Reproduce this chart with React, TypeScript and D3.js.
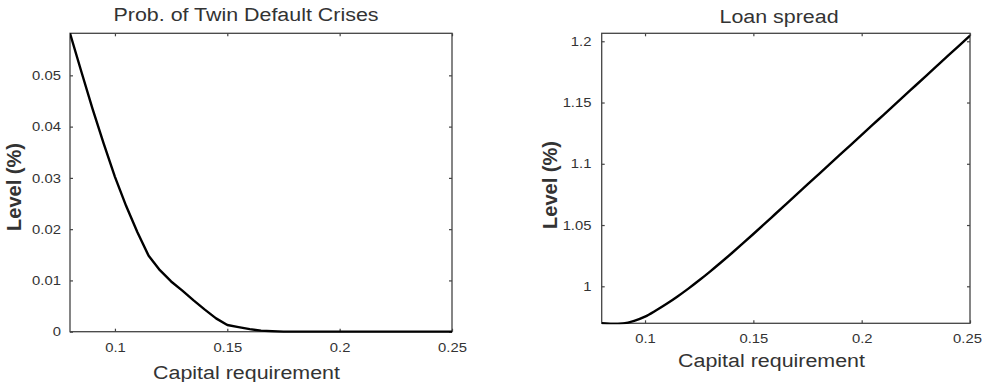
import { useEffect, useRef } from "react";
import * as d3 from "d3";

const W = 982;
const H = 382;
// the source picture is a little stretched horizontally
const SX = 1.14;
const FONT = "'Liberation Sans', Arial, sans-serif";

const capital = [
  0.08, 0.085, 0.09, 0.095, 0.1, 0.105, 0.11, 0.115, 0.12, 0.125, 0.13, 0.135,
  0.14, 0.145, 0.15, 0.155, 0.16, 0.165, 0.17, 0.175, 0.18, 0.185, 0.19, 0.195,
  0.2, 0.205, 0.21, 0.215, 0.22, 0.225, 0.23, 0.235, 0.24, 0.245, 0.25,
];

const twinCrisisProb = [
  0.0582, 0.0508, 0.0435, 0.0367, 0.0302, 0.0245, 0.0194, 0.0148, 0.012,
  0.0098, 0.008, 0.0061, 0.0043, 0.0026, 0.0013, 0.0009, 0.0005, 0.0002,
  0.0001, 0, 0, 0, 0, 0, 0, 0, 0, 0, 0, 0, 0, 0, 0, 0, 0,
];

const loanSpread = [
  0.9698, 0.9692, 0.9697, 0.9718, 0.9752, 0.9802, 0.9857, 0.9917, 0.9981,
  1.0049, 1.012, 1.0194, 1.027, 1.0348, 1.0427, 1.0507, 1.0588, 1.0669, 1.075,
  1.0831, 1.0912, 1.0993, 1.1074, 1.1155, 1.1236, 1.1317, 1.1398, 1.1479,
  1.156, 1.1641, 1.1722, 1.1803, 1.1884, 1.1965, 1.2046,
];

const xTicks = [0.1, 0.15, 0.2, 0.25];
const probTicks = [0, 0.01, 0.02, 0.03, 0.04, 0.05];
const spreadTicks = [1, 1.05, 1.1, 1.15, 1.2];

const panels = [
  {
    id: "twin",
    title: "Prob. of Twin Default Crises",
    values: twinCrisisProb,
    yDomain: [0, 0.0582],
    yTicks: probTicks,
    box: { l: 70, r: 452, t: 33.3, b: 331.7 },
    titleAt: [246, 21],
    xLabelAt: [246.5, 379],
    yLabelAt: [14, 187],
    yPad: 8,
    lastTickShift: 0,
    curve: d3.curveLinear,
  },
  {
    id: "spread",
    title: "Loan spread",
    values: loanSpread,
    yDomain: [0.9698, 1.2065],
    yTicks: spreadTicks,
    box: { l: 601.7, r: 970, t: 33.3, b: 323.3 },
    titleAt: [779, 23],
    xLabelAt: [771.5, 366.7],
    yLabelAt: [550, 185],
    yPad: 9,
    lastTickShift: -3,
    curve: d3.curveMonotoneX,
  },
];

type Panel = (typeof panels)[number];

function drawPanel(svg: d3.Selection<SVGSVGElement, unknown, null, undefined>, p: Panel) {
  const { l, r, t, b } = p.box;
  const x = d3.scaleLinear().domain([0.08, 0.25]).range([l, r]);
  const y = d3.scaleLinear().domain(p.yDomain).range([b, t]);
  const fmt = d3.format("~g");
  const g = svg.append("g");

  const tidy = (sel: d3.Selection<SVGGElement, unknown, null, undefined>) => {
    sel.select(".domain").remove();
    sel.selectAll("line").attr("stroke", "#444").attr("stroke-width", 1.2);
    sel
      .selectAll("text")
      .attr("fill", "#333")
      .style("font-family", FONT)
      .style("font-size", "13px")
      .attr("transform", `scale(${SX},1)`);
  };

  const bottom = g
    .append("g")
    .attr("transform", `translate(0,${b})`)
    .call(d3.axisBottom(x).tickValues(xTicks).tickSize(-3).tickPadding(10.8).tickFormat(fmt))
    .call(tidy);
  // keep the last label inside the page
  bottom
    .selectAll<SVGTextElement, number>("text")
    .filter((d) => d === 0.25)
    .attr("transform", `translate(${p.lastTickShift},0) scale(${SX},1)`);

  g.append("g")
    .attr("transform", `translate(0,${t})`)
    .call(d3.axisTop(x).tickValues(xTicks).tickSize(-3).tickFormat(() => ""))
    .call(tidy);
  g.append("g")
    .attr("transform", `translate(${l},0)`)
    .call(d3.axisLeft(y).tickValues(p.yTicks).tickSize(-3).tickPadding(p.yPad).tickFormat(fmt))
    .call(tidy);
  g.append("g")
    .attr("transform", `translate(${r},0)`)
    .call(d3.axisRight(y).tickValues(p.yTicks).tickSize(-3).tickFormat(() => ""))
    .call(tidy);

  g.append("rect")
    .attr("x", l)
    .attr("y", t)
    .attr("width", r - l)
    .attr("height", b - t)
    .attr("fill", "none")
    .attr("stroke", "#444")
    .attr("stroke-width", 1.3);

  g.append("clipPath")
    .attr("id", `clip-${p.id}`)
    .append("rect")
    .attr("x", l)
    .attr("y", t - 1)
    .attr("width", r - l)
    .attr("height", b - t + 2);

  const line = d3
    .line<number>()
    .x((_d, i) => x(capital[i]))
    .y((d) => y(d))
    .curve(p.curve);

  g.append("path")
    .datum(p.values)
    .attr("clip-path", `url(#clip-${p.id})`)
    .attr("d", line)
    .attr("fill", "none")
    .attr("stroke", "#000")
    .attr("stroke-width", 2.4)
    .attr("stroke-linejoin", "round");

  const text = (s: string, [tx, ty]: number[], size: number, rotated = false, bold = false) =>
    g
      .append("text")
      .attr(
        "transform",
        rotated
          ? `translate(${tx},${ty}) rotate(-90) scale(1,1.05)`
          : `translate(${tx},${ty}) scale(${SX},1)`,
      )
      .attr("text-anchor", "middle")
      .attr("dy", rotated ? "0.35em" : 0)
      .attr("fill", "#333")
      .style("font-family", FONT)
      .style("font-size", `${size}px`)
      .style("font-weight", bold ? "bold" : "normal")
      .text(s);

  text(p.title, p.titleAt, 18.8);
  text("Capital requirement", p.xLabelAt, 18.8);
  text("Level (%)", p.yLabelAt, 20, true, true);
}

export default function App() {
  const svgRef = useRef<SVGSVGElement>(null);

  useEffect(() => {
    const svg = d3.select(svgRef.current);
    if (!svg.node()) return;
    svg.selectAll("*").remove();
    panels.forEach((p) => drawPanel(svg as any, p));
  }, []);

  return (
    <svg
      ref={svgRef}
      width={W}
      height={H}
      style={{ position: "absolute", left: 0, top: 0, background: "#fff" }}
    />
  );
}
